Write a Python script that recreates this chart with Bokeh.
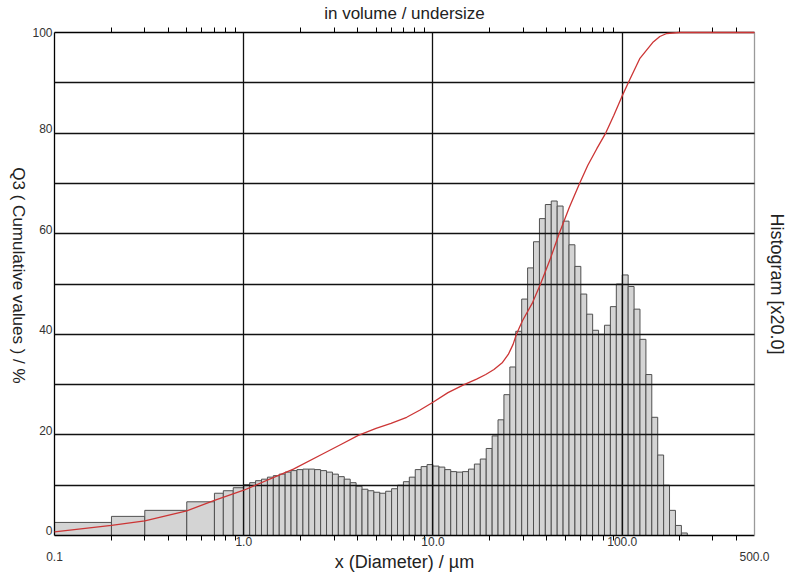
from math import pi
from bokeh.plotting import figure
from bokeh.layouts import row
from bokeh.models import FixedTicker, LogAxis, LinearAxis, ColumnDataSource, PrintfTickFormatter, Label
from bokeh.embed import file_html
from bokeh.resources import INLINE

# ---------------- data ----------------
# class edges of the histogram (µm)
class_edges = [0.1, 0.2, 0.3, 0.5, 0.7, 0.78, 0.88,
               1.000, 1.075, 1.155, 1.241, 1.334, 1.433, 1.540, 1.655, 1.778, 1.911,
               2.054, 2.207, 2.371, 2.548, 2.738, 2.943, 3.162, 3.398, 3.652, 3.924,
               4.217, 4.532, 4.870, 5.233, 5.623, 6.043, 6.494, 6.978, 7.499, 8.058,
               8.660, 9.306,
               10.00, 10.75, 11.55, 12.41, 13.34, 14.33, 15.40, 16.55, 17.78, 19.11,
               20.54, 22.07, 23.71, 25.48, 27.38, 29.43, 31.62, 33.98, 36.52, 39.24,
               42.17, 45.32, 48.70, 52.33, 56.23, 60.43, 64.94, 69.78, 74.99, 80.58,
               86.60, 93.06,
               100.0, 107.5, 115.5, 124.1, 133.4, 143.3, 154.0, 165.5, 177.8, 191.1,
               205.4, 220.7]

# histogram values (plotted x20.0 on the % axis)
hist_values = [2.6, 3.8, 5.0, 6.7, 8.4, 8.9, 9.5,
               10.1, 10.5, 10.9, 11.2, 11.6, 11.9, 12.2, 12.6, 12.9, 13.1,
               13.2, 13.2, 13.1, 12.9, 12.6, 12.2, 11.7, 11.2, 10.5, 9.8,
               9.2, 8.9, 8.6, 8.4, 8.8, 9.3, 10.0, 10.7, 11.6, 13.1,
               13.7, 14.1,
               13.8, 13.6, 13.1, 12.7, 12.6, 12.7, 13.2, 14.2, 15.2, 17.3,
               19.8, 23.0, 28.0, 33.5, 40.6, 47.0, 53.2, 58.4, 63.0, 65.8,
               66.5, 65.5, 62.5, 57.8, 53.5, 48.0, 44.0, 40.8, 40.0, 41.8,
               45.5, 50.0,
               51.8, 49.5, 45.0, 39.0, 32.0, 23.5, 16.0, 10.0, 5.0, 2.0,
               0.5]

# cumulative undersize Q3 (%)
q3_diam = [0.1, 0.2, 0.3, 0.5, 0.7, 1.0, 1.43, 1.83, 2.64, 3.3, 4.03, 5.0, 6.0, 7.26,
           8.5, 10.0, 12.0, 14.6, 17.0, 19.0, 21.0, 23.3, 25.0, 26.5, 27.6, 29.7,
           33.6, 37.0, 41.5, 46.4, 52.5, 59.5, 65.8, 73.4, 81.8, 90.2, 99.4, 109.5,
           123.7, 144.8, 158.0, 171.7, 200.0, 500.0]
q3_values = [0.7, 2.0, 2.9, 4.9, 7.0, 9.0, 11.5, 13.2, 16.3, 18.2, 19.9, 21.3, 22.3, 23.5,
             24.9, 26.5, 28.4, 30.0, 31.1, 32.0, 33.0, 34.4, 36.0, 38.0, 40.0, 42.7,
             46.3, 50.0, 54.8, 60.0, 65.2, 70.0, 73.6, 76.9, 80.0, 83.5, 87.2, 90.6,
             94.8, 98.0, 99.2, 99.8, 100.0, 100.0]

x_major = [1, 10, 100]
x_minor = [0.2, 0.3, 0.4, 0.5, 0.6, 0.7, 0.8, 0.9,
           2, 3, 4, 5, 6, 7, 8, 9,
           20, 30, 40, 50, 60, 70, 80, 90,
           200, 300, 400]
x_end_ticks = [0.1, 500]
y_grid = [10, 20, 30, 40, 50, 60, 70, 80, 90]
y_label_values = [0, 20, 40, 60, 80, 100]
# labels sit just above their grid line
y_label_pos = [0.9, 20.9, 40.9, 60.9, 80.9, 100]

FONT = "Liberation Sans"
LABEL_COLOR = "#333333"
TITLE_COLOR = "#222222"

# ---------------- main figure ----------------
p = figure(frame_width=700, frame_height=503, x_axis_type="log",
           x_range=(0.1, 500), y_range=(0, 100), y_axis_location=None,
           output_backend="svg", toolbar_location=None,
           min_border_left=26, min_border_right=34, min_border_top=32, min_border_bottom=39)
p.background_fill_color = "white"
p.border_fill_color = "white"
p.outline_line_color = None

src = ColumnDataSource(dict(left=class_edges[:-1], right=class_edges[1:], top=hist_values))
p.quad(left="left", right="right", bottom=0, top="top", source=src,
       fill_color="#d4d4d4", line_color="#505050", line_width=1)

p.line(q3_diam, q3_values, line_color="#cc3535", line_width=1.3, level="overlay")

# grids
p.xgrid.ticker = FixedTicker(ticks=x_major)
p.ygrid.ticker = FixedTicker(ticks=y_grid)
p.grid.grid_line_color = "#111111"
p.grid.grid_line_width = 1.3
p.grid.level = "guide"


def style_text(ax):
    ax.major_label_text_font = FONT
    ax.major_label_text_font_size = "12px"
    ax.major_label_text_color = LABEL_COLOR
    ax.axis_label_text_font = FONT
    ax.axis_label_text_font_style = "normal"
    ax.axis_label_text_color = TITLE_COLOR
    ax.axis_label_text_font_size = "17px"


# bottom axis: ticks + 1.0 / 10.0 / 100.0
ax = p.xaxis[0]
ax.ticker = FixedTicker(ticks=x_major, minor_ticks=x_minor)
ax.formatter = PrintfTickFormatter(format="%.1f")
ax.major_tick_out = 0
ax.major_tick_in = 0
ax.minor_tick_out = 5
ax.minor_tick_in = 0
ax.minor_tick_line_color = "black"
ax.axis_line_color = "black"
ax.axis_line_width = 1.3
ax.major_label_standoff = -4
style_text(ax)

# second bottom axis: the end labels 0.1 / 500.0 and the axis title
ax2 = LogAxis(ticker=FixedTicker(ticks=x_end_ticks, minor_ticks=[]),
              formatter=PrintfTickFormatter(format="%.1f"),
              axis_line_color=None, major_tick_out=0, major_tick_in=0,
              minor_tick_out=0, minor_tick_in=0, major_label_standoff=3,
              axis_label="x (Diameter) / µm", axis_label_standoff=-12)
style_text(ax2)
ax2.axis_label_text_font_size = "18px"
p.add_layout(ax2, "below")

# top axis: ticks only + title
top = LogAxis(ticker=FixedTicker(ticks=[], minor_ticks=x_minor),
              major_tick_out=0, major_tick_in=0, minor_tick_out=5, minor_tick_in=0,
              minor_tick_line_color="black", axis_line_color="black", axis_line_width=1.3,
              major_label_standoff=0,
              axis_label="in volume / undersize", axis_label_standoff=5)
style_text(top)
p.add_layout(top, "above")

# left axis: % labels
yl = LinearAxis(ticker=FixedTicker(ticks=y_label_pos, minor_ticks=[]),
                major_label_overrides={pos: str(v) for pos, v in zip(y_label_pos, y_label_values)},
                major_tick_out=0, major_tick_in=0, minor_tick_out=0, minor_tick_in=0,
                axis_line_color="black", axis_line_width=1.3, major_label_standoff=2)
style_text(yl)
p.add_layout(yl, "left")

# right axis: histogram title, grey border line
yr = LinearAxis(ticker=FixedTicker(ticks=[], minor_ticks=[]),
                major_tick_out=0, major_tick_in=0, minor_tick_out=0, minor_tick_in=0,
                axis_line_color="#9a9a9a", axis_line_width=1.3, major_label_standoff=0,
                axis_label="Histogram [x20.0]", axis_label_standoff=12)
style_text(yr)
yr.axis_label_text_font_size = "18px"
p.add_layout(yr, "right")

# ---------------- narrow strip holding the left title (reads top to bottom) ----------------
lf = figure(width=28, height=574, x_range=(0, 1), y_range=(0, 1),
            x_axis_location=None, y_axis_location=None,
            output_backend="svg", toolbar_location=None, min_border=0)
lf.outline_line_color = None
lf.grid.visible = False
lf.background_fill_color = "white"
lf.border_fill_color = "white"
lf.add_layout(Label(x=18, y=260, x_units="screen", y_units="screen",
                    text="Q3 ( Cumulative values ) / %", angle=-pi / 2,
                    text_align="center", text_baseline="middle",
                    text_font=FONT, text_font_size="17px", text_color=TITLE_COLOR))

layout = row(lf, p, spacing=0)
open("out.html", "w").write(file_html(layout, INLINE))
